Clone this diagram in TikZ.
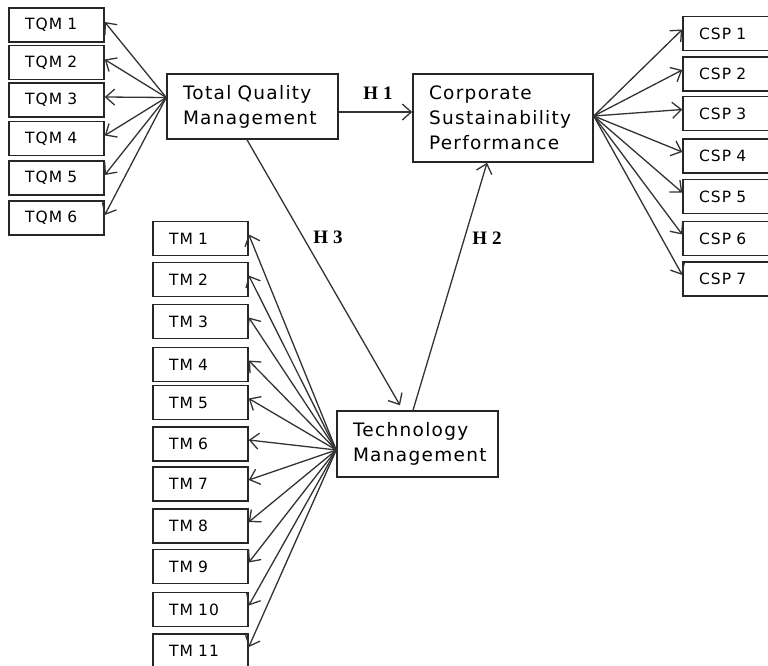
\documentclass[tikz,border=0pt]{standalone}
\usepackage{fontspec}
\usetikzlibrary{arrows.meta}
\newfontfamily\boxfont[LetterSpace=7]{DejaVu Sans}
\newfontfamily\hfont{Liberation Serif}
\begin{document}
\begin{tikzpicture}[x=1pt,y=-1pt,
  item/.style={draw=black!85,line width=1.5pt,minimum width=95pt,minimum height=34pt,
    inner xsep=16pt,inner ysep=0pt,text width=63pt,align=left,
    font=\boxfont\fontsize{15.5}{16}\selectfont},
  construct/.style={draw=black!85,line width=1.5pt,inner xsep=16pt,inner ysep=0pt,align=left,
    font=\boxfont\fontsize{18.5}{25}\selectfont},
  link/.style={draw=black!80,line width=1.3pt,-{Straight Barb[length=9pt,width=16pt]}},
  hyp/.style={font=\hfont\bfseries\fontsize{19}{20}\selectfont}]
\clip (0,0) rectangle (768,665);
\fill[white] (0,0) rectangle (768,665);
% constructs
\node[construct,minimum width=171pt,minimum height=65pt,text width=139pt] (tqm) at (252.5,106.5) {Total Quality\\Management};
\node[construct,minimum width=180pt,minimum height=88pt,text width=148pt] (csp) at (503,118) {Corporate\\Sustainability\\Performance};
\node[construct,minimum width=161pt,minimum height=66pt,text width=129pt] (tm) at (417.5,444) {Technology\\Management};
% TQM items
\foreach \i/\y in {1/25,2/62.5,3/100,4/138.5,5/178,6/218}
  \node[item] (q\i) at (56.5,\y) {TQM \i};
% CSP items
\foreach \i/\y in {1/33.5,2/74,3/113.5,4/156,5/196.5,6/238.5,7/279}
  \node[item] (c\i) at (730.5,\y) {CSP \i};
% TM items
\foreach \i/\y in {1/238.5,2/279.5,3/321.5,4/364.5,5/402.5,6/444,7/484,8/526,9/566.5,10/609.5,11/651}
  \node[item] (m\i) at (200.5,\y) {TM \i};
% fans
\coordinate (qo) at ([yshift=9pt]tqm.west);
\foreach \i in {1,...,6} \draw[link] (qo) -- ([yshift=3pt]q\i.east);
\coordinate (co) at ([yshift=2pt]csp.east);
\foreach \i in {1,...,7} \draw[link] (co) -- ([yshift=4pt]c\i.west);
\coordinate (mo) at ([yshift=-6pt]tm.west);
\foreach \i in {1,...,11} \draw[link] (mo) -- ([yshift=4pt]m\i.east);
% hypotheses
\coordinate (h1s) at ([yshift=-5.5pt]tqm.east);
\draw[link] (h1s) -- (h1s -| csp.west);
\node[hyp] (h1) at (378,93) {H 1};
\coordinate (h3s) at ([xshift=-5.5pt]tqm.south);
\coordinate (h3e) at ([xshift=-17.5pt,yshift=5pt]tm.north);
\draw[link] (h3s) -- (h3e);
\node[hyp] (h3) at (328,237) {H 3};
\coordinate (h2s) at ([xshift=-4.5pt]tm.north);
\coordinate (h2e) at ([xshift=-16pt]csp.south);
\draw[link] (h2s) -- (h2e);
\node[hyp] (h2) at (487,238) {H 2};
\end{tikzpicture}
\end{document}
